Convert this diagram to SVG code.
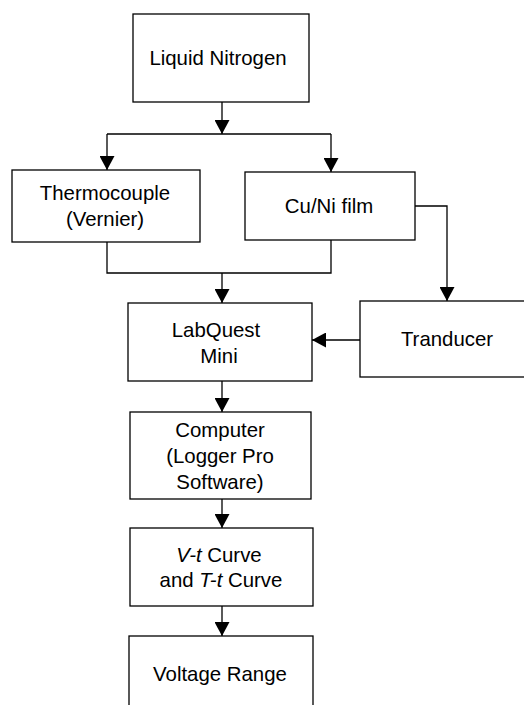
<svg xmlns="http://www.w3.org/2000/svg" width="524" height="705" viewBox="0 0 524 705">
<defs>
<style>
.box{fill:#fff;stroke:#000;stroke-width:1.3}
.t{font-family:"Liberation Sans",Arial,sans-serif;font-size:20.4px;fill:#000;text-anchor:middle}
.c{fill:none;stroke:#000;stroke-width:1.3}
</style>
<marker id="ah" markerUnits="userSpaceOnUse" markerWidth="14" markerHeight="15" refX="14" refY="7.5" orient="auto" viewBox="0 0 14 15">
<path d="M0,0 L14,7.5 L0,15 Z" fill="#000"/>
</marker>
</defs>
<rect width="524" height="705" fill="#fff"/>
<g id="connectors">
<path class="c" d="M222,102 V134" marker-end="url(#ah)"/>
<path class="c" d="M107,134 H331"/>
<path class="c" d="M107,134 V170" marker-end="url(#ah)"/>
<path class="c" d="M331,134 V172" marker-end="url(#ah)"/>
<path class="c" d="M107,242 V273 H331 V240"/>
<path class="c" d="M222,273 V303" marker-end="url(#ah)"/>
<path class="c" d="M415,206 H447 V301" marker-end="url(#ah)"/>
<path class="c" d="M360,340 H312" marker-end="url(#ah)"/>
<path class="c" d="M222,381 V412" marker-end="url(#ah)"/>
<path class="c" d="M222,499 V528" marker-end="url(#ah)"/>
<path class="c" d="M222,606 V636" marker-end="url(#ah)"/>
</g>
<g id="liquid-nitrogen">
<rect class="box" x="133" y="14" width="176" height="88"/>
<text class="t" x="218" y="65">Liquid Nitrogen</text>
</g>
<g id="thermocouple">
<rect class="box" x="12" y="170" width="188" height="72"/>
<text class="t" x="105" y="200">Thermocouple</text>
<text class="t" x="105" y="226">(Vernier)</text>
</g>
<g id="cuni-film">
<rect class="box" x="245" y="172" width="170" height="68"/>
<text class="t" x="329" y="213">Cu/Ni film</text>
</g>
<g id="labquest">
<rect class="box" x="128" y="303" width="184" height="78"/>
<text class="t" x="216" y="337">LabQuest</text>
<text class="t" x="219" y="363">Mini</text>
</g>
<g id="tranducer">
<rect class="box" x="360" y="301" width="180" height="76"/>
<text class="t" x="447" y="346">Tranducer</text>
</g>
<g id="computer">
<rect class="box" x="130" y="412" width="181" height="87"/>
<text class="t" x="220" y="437">Computer</text>
<text class="t" x="220" y="463">(Logger Pro</text>
<text class="t" x="220" y="489">Software)</text>
</g>
<g id="curves">
<rect class="box" x="130" y="528" width="183" height="78"/>
<text class="t" x="219" y="562"><tspan font-style="italic">V-t</tspan> Curve</text>
<text class="t" x="221" y="587">and <tspan font-style="italic">T-t</tspan> Curve</text>
</g>
<g id="voltage-range">
<rect class="box" x="129" y="636" width="184" height="90"/>
<text class="t" x="220" y="681">Voltage Range</text>
</g>
</svg>
